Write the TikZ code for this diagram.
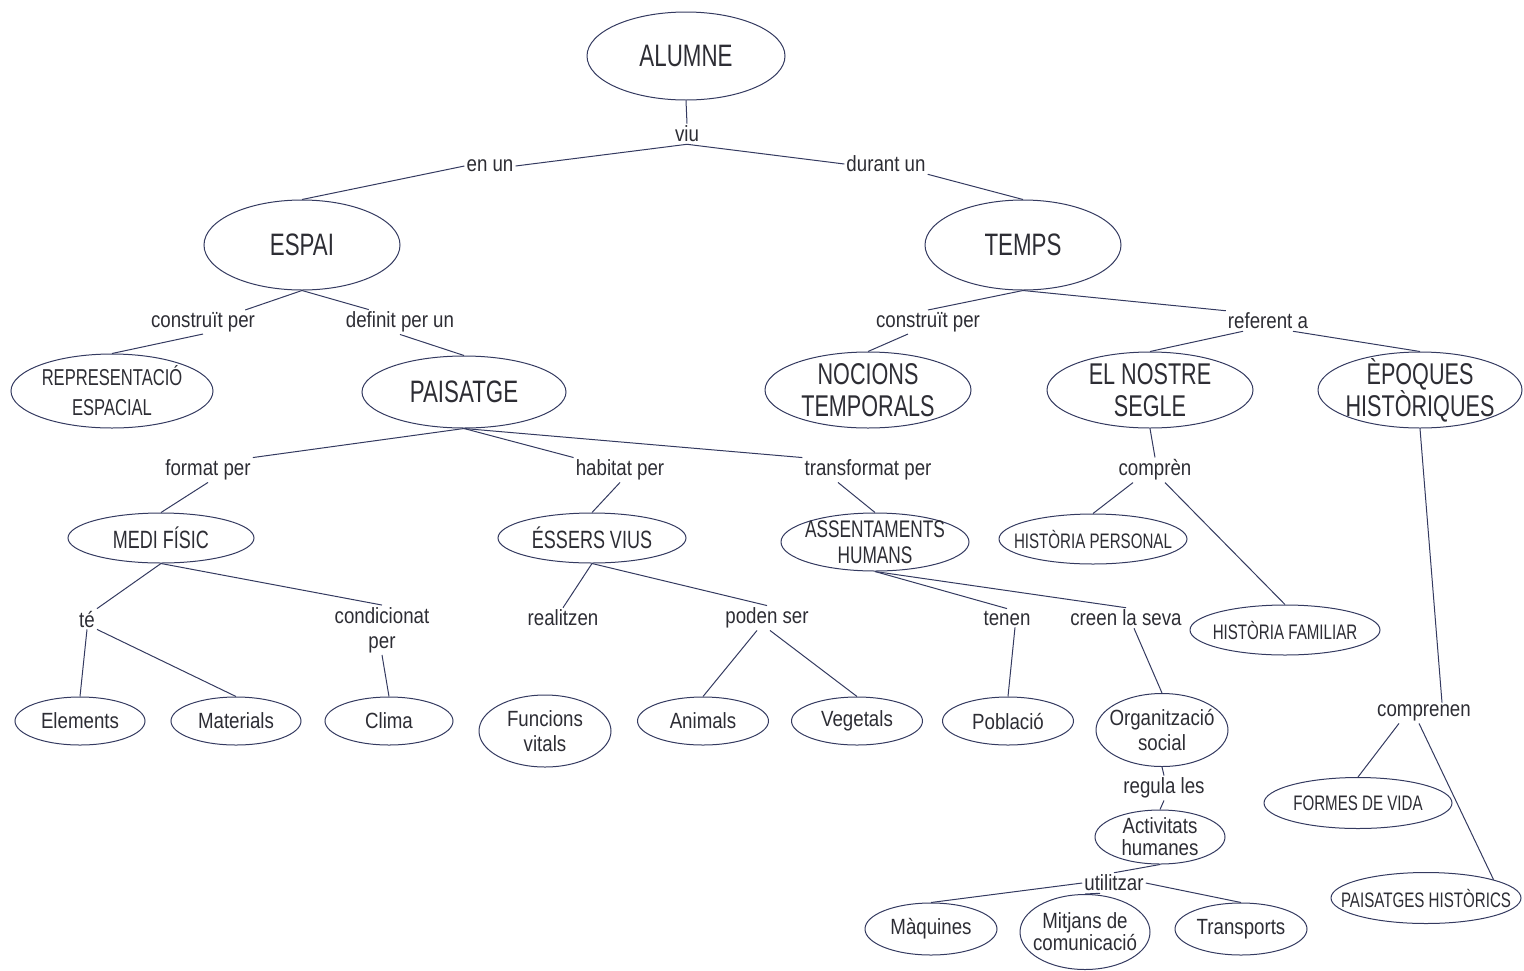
\documentclass[tikz,border=0pt]{standalone}
\usepackage{fontspec}
\setmainfont{Liberation Sans}[FakeStretch=0.85]
\newfontfamily\capsfont{Liberation Sans}[FakeStretch=0.72]
\usetikzlibrary{shapes.geometric}
\definecolor{edge}{RGB}{52,58,96}
\definecolor{ink}{RGB}{45,45,52}
\tikzset{
  concept/.style={ellipse, draw=edge, line width=1pt, inner xsep=-30pt, inner ysep=-10pt, align=center, text=ink},
  bigc/.style={concept, font=\capsfont\fontsize{31}{34}\selectfont},
  midc/.style={concept, font=\capsfont\fontsize{30}{32}\selectfont},
  capc/.style={concept, font=\capsfont\fontsize{25}{28}\selectfont},
  thinc/.style={concept, font=\capsfont\fontsize{21}{24}\selectfont},
  leaf/.style={concept, font=\fontsize{22}{25}\selectfont},
  link/.style={inner sep=2pt, align=center, text=ink, font=\fontsize{22}{25}\selectfont},
  conn/.style={draw=edge, line width=1pt},
}
\begin{document}
\begin{tikzpicture}[x=1pt, y=-1pt]
  \useasboundingbox (0,0) rectangle (1524,970);
  % concepts
  \node[bigc, minimum width=198, minimum height=88] (alumne) at (686,56) {ALUMNE};
  \node[bigc, minimum width=196, minimum height=90] (espai) at (302,245) {ESPAI};
  \node[bigc, minimum width=196, minimum height=90] (temps) at (1023,245) {TEMPS};
  \node[concept, font=\capsfont\fontsize{23}{30}\selectfont, minimum width=202, minimum height=74] (repr) at (112,391) {REPRESENTACIÓ\\ESPACIAL};
  \node[bigc, minimum width=204, minimum height=72] (paisatge) at (464,392) {PAISATGE};
  \node[midc, minimum width=206, minimum height=76] (nocions) at (868,390) {NOCIONS\\TEMPORALS};
  \node[midc, minimum width=206, minimum height=76] (segle) at (1150,390) {EL NOSTRE\\SEGLE};
  \node[midc, minimum width=204, minimum height=76] (epoques) at (1420,390) {ÈPOQUES\\HISTÒRIQUES};
  \node[capc, minimum width=186, minimum height=50] (medi) at (161,538) {MEDI FÍSIC};
  \node[capc, minimum width=188, minimum height=50] (essers) at (592,538) {ÉSSERS VIUS};
  \node[concept, font=\capsfont\fontsize{24}{26}\selectfont, minimum width=188, minimum height=58] (assent) at (875,542) {ASSENTAMENTS\\HUMANS};
  \node[thinc, minimum width=188, minimum height=50] (hpers) at (1093,539) {HISTÒRIA PERSONAL};
  \node[thinc, minimum width=190, minimum height=50] (hfam) at (1285,630) {HISTÒRIA FAMILIAR};
  \node[thinc, minimum width=188, minimum height=51] (formes) at (1358,803) {FORMES DE VIDA};
  \node[thinc, minimum width=190, minimum height=51] (paisatges) at (1426,898) {PAISATGES HISTÒRICS};
  \node[leaf, minimum width=130, minimum height=48] (elements) at (80,721) {Elements};
  \node[leaf, minimum width=130, minimum height=48] (materials) at (236,721) {Materials};
  \node[leaf, minimum width=128, minimum height=48] (clima) at (389,721) {Clima};
  \node[leaf, minimum width=132, minimum height=72] (funcions) at (545,731) {Funcions\\vitals};
  \node[leaf, minimum width=131, minimum height=48] (animals) at (703,721) {Animals};
  \node[leaf, minimum width=131, minimum height=48] (vegetals) at (857,721) {Vegetals};
  \node[leaf, minimum width=131, minimum height=48] (poblacio) at (1008,721) {Població};
  \node[leaf, minimum width=132, minimum height=73] (organitz) at (1162,730) {Organització\\social};
  \node[leaf, font=\fontsize{22}{22}\selectfont, minimum width=130, minimum height=54] (activ) at (1160,837) {Activitats\\humanes};
  \node[leaf, minimum width=132, minimum height=52] (maquines) at (931,929) {Màquines};
  \node[leaf, font=\fontsize{22}{22}\selectfont, minimum width=130, minimum height=75] (mitjans) at (1085,932) {Mitjans de\\comunicació};
  \node[leaf, minimum width=132, minimum height=52] (transports) at (1241,929) {Transports};
  % linking words
  \node[link] (viu) at (687,134) {viu};
  \node[link] (enun) at (490,166) {en un};
  \node[link] (durantun) at (886,164) {durant un};
  \node[link] (lconsE) at (203,322) {construït per};
  \node[link] (ldefin) at (400,322) {definit per un};
  \node[link] (lconsT) at (928,322) {construït per};
  \node[link] (lref) at (1268,321) {referent a};
  \node[link] (lformat) at (208,470) {format per};
  \node[link] (lhabit) at (620,470) {habitat per};
  \node[link] (ltransf) at (868,470) {transformat per};
  \node[link] (lcompren) at (1155,470) {comprèn};
  \node[link] (lte) at (87,619) {té};
  \node[link] (lcond) at (382,630) {condicionat\\per};
  \node[link] (lreal) at (563,618) {realitzen};
  \node[link] (lpoden) at (767,618) {poden ser};
  \node[link] (ltenen) at (1007,618) {tenen};
  \node[link] (lcreen) at (1126,618) {creen la seva};
  \node[link] (lcomprenen) at (1424,713) {comprenen};
  \node[link] (lregula) at (1164,788) {regula les};
  \node[link] (lutil) at (1114,883) {utilitzar};
  % connectors
  \begin{scope}[conn]
    \draw (alumne.south) -- (viu.north);
    \draw (viu.south) -- (enun.east);
    \draw (enun.west) -- (espai.north);
    \draw (viu.south) -- (durantun.west);
    \draw (durantun.south east) -- (temps.north);
    \draw (espai.south) -- ([xshift=-12pt]lconsE.north east);
    \draw (lconsE.south) -- (repr.north);
    \draw (espai.south) -- ([xshift=25pt]ldefin.north west);
    \draw (ldefin.south) -- (paisatge.north);
    \draw (temps.south) -- (lconsT.north);
    \draw ([xshift=-20pt]lconsT.south) -- (nocions.north);
    \draw (temps.south) -- (lref.north west);
    \draw ([xshift=-25pt]lref.south) -- (segle.north);
    \draw ([xshift=25pt]lref.south) -- (epoques.north);
    \draw (paisatge.south) -- (lformat.north east);
    \draw (paisatge.south) -- (lhabit.north west);
    \draw (paisatge.south) -- (ltransf.north west);
    \draw (lformat.south) -- (medi.north);
    \draw (lhabit.south) -- (essers.north);
    \draw ([xshift=-30pt]ltransf.south) -- (assent.north);
    \draw (segle.south) -- (lcompren.north);
    \draw ([xshift=-22pt]lcompren.south) -- (hpers.north);
    \draw ([xshift=10pt]lcompren.south) -- (hfam.north);
    \draw (epoques.south) -- ([xshift=18pt]lcomprenen.north);
    \draw ([xshift=-25pt]lcomprenen.south) -- (formes.north);
    \draw ([xshift=-5pt]lcomprenen.south) -- (paisatges.north east);
    \draw (medi.south) -- (lte.north east);
    \draw (medi.south) -- (lcond.north);
    \draw (lte.south) -- (elements.north);
    \draw (lte.south east) -- (materials.north);
    \draw (lcond.south) -- (clima.north);
    \draw (essers.south) -- (lreal.north);
    \draw (essers.south) -- (lpoden.north);
    \draw ([xshift=-10pt]lpoden.south) -- (animals.north);
    \draw ([xshift=3pt]lpoden.south) -- (vegetals.north);
    \draw (assent.south) -- (ltenen.north);
    \draw (assent.south) -- (lcreen.north);
    \draw ([xshift=8pt]ltenen.south) -- (poblacio.north);
    \draw ([xshift=8pt]lcreen.south) -- (organitz.north);
    \draw (organitz.south) -- (lregula.north);
    \draw (lregula.south) -- (activ.north);
    \draw (activ.south) -- (lutil.north);
    \draw (lutil.west) -- (maquines.north);
    \draw ([xshift=-14pt]lutil.south) -- (mitjans.north);
    \draw (lutil.east) -- (transports.north);
  \end{scope}
\end{tikzpicture}
\end{document}
